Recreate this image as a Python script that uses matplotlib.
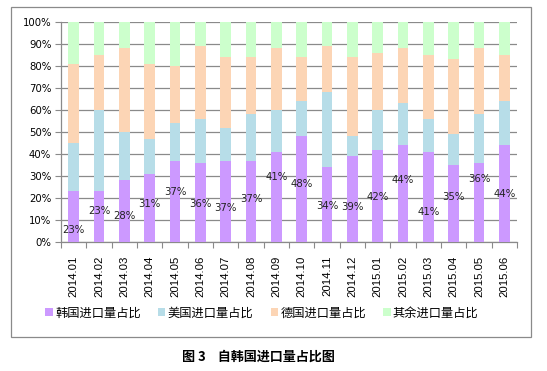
import matplotlib
matplotlib.use("Agg")
import matplotlib.pyplot as plt
from matplotlib.patches import Rectangle, Patch
import numpy as np

months = ["2014.01", "2014.02", "2014.03", "2014.04", "2014.05", "2014.06",
          "2014.07", "2014.08", "2014.09", "2014.10", "2014.11", "2014.12",
          "2015.01", "2015.02", "2015.03", "2015.04", "2015.05", "2015.06"]
korea = [23, 23, 28, 31, 37, 36, 37, 37, 41, 48, 34, 39, 42, 44, 41, 35, 36, 44]
usa = [22, 37, 22, 16, 17, 20, 15, 21, 19, 16, 34, 9, 18, 19, 15, 14, 22, 20]
germany = [36, 25, 38, 34, 26, 33, 32, 26, 28, 20, 21, 36, 26, 25, 29, 34, 30, 21]
others = [100 - a - b - c for a, b, c in zip(korea, usa, germany)]
series_names = ["韩国进口量占比", "美国进口量占比", "德国进口量占比", "其余进口量占比"]
label_y = [5.5, 14.2, 11.8, 17.3, 22.7, 17.4, 15.5, 19.7, 29.7, 26.4, 16.5, 16.0,
           20.3, 28.2, 13.5, 20.6, 28.6, 21.8]

colors = ["#CC99FF", "#B7DDE8", "#FCD5B5", "#CCFFCC"]
W, H = 547, 371
fig = plt.figure(figsize=(W / 100, H / 100), dpi=100)
fig.patch.set_facecolor("white")

ax = fig.add_axes([61 / W, (H - 242) / H, (517 - 61) / W, 220 / H])
x = np.arange(len(months))
bottom = np.zeros(len(months))
for vals, c in zip([korea, usa, germany, others], colors):
    ax.bar(x, vals, 0.43, bottom=bottom, color=c, zorder=3, linewidth=0)
    bottom += np.array(vals)

for i, (v, ly) in enumerate(zip(korea, label_y)):
    ax.text(i, ly, f"{v}%", ha="center", va="center", fontsize=7.3,
            family="DejaVu Sans", color="#222222", zorder=5)

ax.set_xlim(-0.5, len(months) - 0.5)
ax.set_ylim(0, 100)
ax.set_yticks(np.arange(0, 101, 10))
ax.set_yticklabels([f"{v}%" for v in range(0, 101, 10)], family="DejaVu Sans", fontsize=7.3)
ax.yaxis.grid(True, color="#8a8a8a", linewidth=0.9, zorder=0)
ax.set_axisbelow(True)
ax.tick_params(axis="y", length=4, width=0.8, color="#8a8a8a", pad=3)

ax.set_xticks(x)
ax.set_xticklabels(months, rotation=90, family="Liberation Sans", fontsize=8.2, va="top")
ax.tick_params(axis="x", which="major", length=0, pad=10)
ax.set_xticks(np.arange(-0.5, len(months), 1), minor=True)
ax.tick_params(axis="x", which="minor", length=4, width=0.8, color="#8a8a8a")

for s in ["top", "right"]:
    ax.spines[s].set_visible(False)
for s in ["left", "bottom"]:
    ax.spines[s].set_color("#8a8a8a")
    ax.spines[s].set_linewidth(0.9)

handles = [Patch(facecolor=c, edgecolor="none") for c in colors]
fig.legend(handles, series_names, loc="center", bbox_to_anchor=(262 / W, (H - 313) / H),
           ncol=4, frameon=False, handlelength=0.6, handleheight=0.6, handletextpad=0.2,
           columnspacing=1.4, prop={"family": ["Noto Sans CJK SC", "DejaVu Sans"], "size": 8.8})

fig.patches.append(Rectangle((11 / W, (H - 337) / H), 520 / W, 330 / H, transform=fig.transFigure,
                             fill=False, edgecolor="#8a8a8a", linewidth=0.9))

fig.text(258 / W, (H - 357) / H, "图 3    自韩国进口量占比图", ha="center", va="center",
         fontsize=9.4, fontweight="bold", family=["Noto Sans CJK SC", "DejaVu Sans"])

fig.savefig("out.png", dpi=100)
